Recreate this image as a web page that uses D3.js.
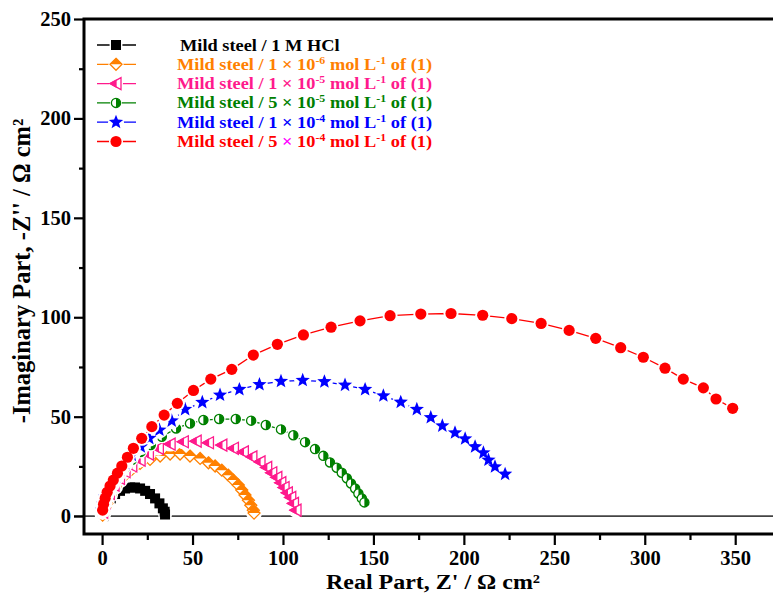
<!DOCTYPE html>
<html><head><meta charset="utf-8">
<script src="https://cdn.jsdelivr.net/npm/d3@7"></script>
<style>body{margin:0;background:#fff}svg{display:block}text{font-family:"Liberation Serif","Times New Roman",serif;font-weight:bold}</style>
</head><body>
<script>
// ---- data ----
const blackX=[0.7,1.2,1.7,2.9,4.8,7.2,9.9,12.7,15.5,18.2,21.0,23.8,26.5,29.3,31.7,33.6,34.6,34.8];
const blackY=[0,1.5,3.0,6.4,8.9,11.1,12.7,13.9,14.4,14.4,13.9,12.7,11.1,8.9,6.4,3.9,2.2,0.8];
const orangeX=[0.3,0.7,1.5,2.6,4.4,7.2,10.0,12.7,16.4,21.0,26.5,32.1,37.6,43.1,48.6,54.2,58.8,62.5,66.2,69.8,72.6,75.3,77.2,79.0,80.9,82.2,83.6,84.0];
const orangeY=[0.5,2.2,4.2,6.4,10.6,14.7,18.1,20.6,23.5,26.5,28.5,30.2,31.2,31.2,30.2,29.0,26.8,25.2,23.1,20.6,18.1,15.6,13.1,10.6,8.0,5.5,3.0,1.5];
const pinkX=[0.3,1.7,4.0,6.6,9.6,12.7,16.4,21.0,25.6,31.1,37.6,44.9,52.0,58.8,66.2,72.6,78.1,82.8,87.3,91.0,93.8,96.6,98.8,100.6,102.4,104.3,105.8,107.2];
const pinkY=[2.0,6.5,11.4,15.6,19.0,22.3,25.2,28.2,31.2,34.1,36.2,37.4,37.7,36.9,35.7,34.1,32.3,29.8,27.3,24.5,21.8,19.5,16.8,14.4,11.7,9.4,6.4,3.0];
const greenX=[0,1.1,2.8,5.0,7.2,9.9,12.7,16.4,21.4,26.9,33.0,40.9,48.6,56.0,64.7,73.9,82.4,90.5,98.9,105.7,112.2,117.7,122.3,126.0,129.7,132.5,135.3,137.6,139.9,141.7,143.6,145.0];
const greenY=[4.0,7.5,11.0,14.6,17.8,21.1,24.5,28.2,32.3,35.7,39.9,44.1,46.6,48.3,48.8,48.8,48.0,45.8,43.6,40.7,37.2,33.7,30.3,27.0,24.3,21.8,19.0,16.4,13.9,11.4,8.9,6.9];
const blueX=[0,0.6,1.7,3.3,5.4,7.7,9.9,12.7,16.4,21.4,26.1,31.7,38.5,45.9,55.4,65.2,75.9,87.0,98.9,110.9,122.9,134.3,145.4,155.5,165.1,174.0,181.7,188.1,195.1,200.7,206.2,210.8,213.6,217.2,222.8];
const blueY=[3.0,6.0,9.6,13.0,16.4,19.8,23.1,26.5,30.7,34.9,39.1,43.3,47.9,53.7,57.2,60.9,63.7,66.2,67.8,68.3,67.6,65.9,63.7,60.5,57.3,53.7,49.6,45.4,41.9,38.9,34.9,31.8,28.2,24.8,21.1];
const redX=[0.3,0.8,1.7,2.8,4.4,6.2,8.5,10.9,14.0,17.3,21.9,27.5,34.3,41.6,50.5,60.1,71.7,83.6,96.9,111.3,126.6,142.6,159.2,176.2,192.9,210.4,226.5,242.7,258.2,272.9,286.7,299.2,311.2,321.3,332.4,339.4,348.6];
const redY=[3,6,9,12,15.1,18.1,21.6,25.2,29.6,34.1,39.1,45.0,50.8,56.7,63.2,68.9,73.8,81.0,86.4,91.1,95.0,98.2,100.8,101.6,101.9,101.0,99.3,96.9,93.4,89.4,84.7,79.9,74.4,68.9,64.5,58.9,54.2];
const xTicks=[0,50,100,150,200,250,300,350];
const yTicks=[0,50,100,150,200,250];

const series=[
 {x:blackX,y:blackY,color:"#000000",marker:"square"},
 {x:orangeX,y:orangeY,color:"#ff8000",marker:"diamond"},
 {x:pinkX,y:pinkY,color:"#ff1a8c",marker:"ltri"},
 {x:greenX,y:greenY,color:"#008000",marker:"halfcircle"},
 {x:blueX,y:blueY,color:"#0000ff",marker:"star"},
 {x:redX,y:redY,color:"#ff0000",marker:"circle"}
];
const legendRows=[
 [["Mild steel / 1 M HCl",""]],
 [["Mild steel / 1 \u00d7 10",""],["-6","sup"],[" mol L",""],["-1","sup"],[" of  (1)",""]],
 [["Mild steel / 1 \u00d7 10",""],["-5","sup"],[" mol L",""],["-1","sup"],[" of  (1)",""]],
 [["Mild steel / 5 \u00d7 10",""],["-5","sup"],[" mol L",""],["-1","sup"],[" of (1)",""]],
 [["Mild steel / 1 \u00d7 10",""],["-4","sup"],[" mol L",""],["-1","sup"],[" of (1)",""]],
 [["Mild steel / 5 ",""],["\u00d7","mag"],[" 10",""],["-4","sup"],[" mol L",""],["-1","sup"],[" of (1)",""]]
];

const W=773,H=595;
const svg=d3.select("body").append("svg").attr("width",W).attr("height",H);
const x=d3.scaleLinear().domain([-10,372]).range([84,775]);
const y=d3.scaleLinear().domain([-9,250]).range([534,19]);

svg.append("line").attr("x1",74).attr("x2",W).attr("y1",y(0)).attr("y2",y(0)).attr("stroke","#444").attr("stroke-width",1.6);

const xMajor=d3.axisBottom(x).tickValues(xTicks).tickSize(11).tickPadding(5).tickFormat(d3.format("d"));
const xMinor=d3.axisBottom(x).tickValues(d3.range(25,372,50)).tickSize(6).tickFormat("");
const yMajor=d3.axisLeft(y).tickValues(yTicks).tickSize(10).tickPadding(3).tickFormat(d3.format("d"));
const yMinor=d3.axisLeft(y).tickValues(d3.range(25,250,50)).tickSize(5).tickFormat("");
function styleAx(g){g.select(".domain").remove();g.selectAll("line").attr("stroke","#000").attr("stroke-width",2.2);g.selectAll("text").attr("font-size",20.5).attr("fill","#000").style("font-family","'Liberation Serif',serif").style("font-weight","bold");}
svg.append("g").attr("transform","translate(0,534)").call(xMajor).call(styleAx);
svg.append("g").attr("transform","translate(0,534)").call(xMinor).call(styleAx);
svg.append("g").attr("transform","translate(84,0)").call(yMajor).call(styleAx);
svg.append("g").attr("transform","translate(84,0)").call(yMinor).call(styleAx);

svg.append("path").attr("d",`M780,19 H84 V534 H780`).attr("fill","none").attr("stroke","#000").attr("stroke-width",3);

function starPath(R,r){let p=[];for(let i=0;i<10;i++){const a=-Math.PI/2+i*Math.PI/5;const rr=i%2?r:R;p.push([rr*Math.cos(a),rr*Math.sin(a)]);}return "M"+p.map(q=>q.join(",")).join("L")+"Z";}
function drawMarker(g,type,color){
 if(type==="square"){
  g.append("rect").attr("x",-5).attr("y",-5).attr("width",10).attr("height",10).attr("fill",color);
 } else if(type==="diamond"){
  const s=6;
  g.append("path").attr("d",`M0,${-s}L${s},0L0,${s}L${-s},0Z`).attr("fill","#fff").attr("stroke",color).attr("stroke-width",1.3);
  g.append("path").attr("d",`M0,${-s}L${s},0L${-s},0Z`).attr("fill",color);
 } else if(type==="ltri"){
  g.append("path").attr("d","M-6,0L5,-6L5,6Z").attr("fill","#fff").attr("stroke",color).attr("stroke-width",1.3);
  g.append("path").attr("d","M-6,0L0,-3.3L0,3.3Z").attr("fill",color).attr("stroke",color).attr("stroke-width",1.3);
 } else if(type==="halfcircle"){
  g.append("circle").attr("r",4.6).attr("fill","#fff").attr("stroke",color).attr("stroke-width",1.3);
  g.append("path").attr("d","M0,-4.6A4.6,4.6 0 0 1 0,4.6Z").attr("fill",color);
 } else if(type==="star"){
  g.append("path").attr("d",starPath(7.5,3.2)).attr("fill",color);
 } else if(type==="circle"){
  g.append("circle").attr("r",5.6).attr("fill",color);
 }
}
function haloR(type){return {square:7,diamond:8,ltri:7.5,halfcircle:6.5,star:8.5,circle:7.5}[type];}

series.forEach(s=>{
 const pts=s.x.map((v,i)=>[x(v),y(s.y[i])]);
 const g=svg.append("g");
 g.append("path").attr("d",d3.line()(pts)).attr("fill","none").attr("stroke",s.color).attr("stroke-width",1.3);
 pts.forEach(p=>{g.append("circle").attr("cx",p[0]).attr("cy",p[1]).attr("r",haloR(s.marker)).attr("fill","#fff");});
 pts.forEach(p=>{drawMarker(g.append("g").attr("transform",`translate(${p[0]},${p[1]})`),s.marker,s.color);});
});

const legY0=45,legDy=19.3;
series.forEach((s,i)=>{
 const yy=legY0+i*legDy;
 const g=svg.append("g");
 g.append("line").attr("x1",97).attr("x2",136).attr("y1",yy).attr("y2",yy).attr("stroke",s.color).attr("stroke-width",1.3);
 g.append("circle").attr("cx",116).attr("cy",yy).attr("r",haloR(s.marker)-0.5).attr("fill","#fff");
 drawMarker(g.append("g").attr("transform",`translate(116,${yy})`),s.marker,s.color);
 const t=g.append("text").attr("transform",`translate(${i===0?180:177},${yy+5.5}) scale(1.08,1)`).style("font-size","17px").attr("fill",s.color);
 let prevSup=false;
 legendRows[i].forEach(p=>{
  const ts=t.append("tspan").text(p[0]);
  const sup=p[1]==="sup";
  if(sup){ts.style("font-size","11px").attr("dy",prevSup?0:-6);}
  else if(prevSup){ts.attr("dy",6);}
  if(p[1]==="mag"){ts.attr("fill","#ff00ff");}
  prevSup=sup;
 });
});

svg.append("text").attr("transform","translate(433,589) scale(1.09,1)").attr("text-anchor","middle").style("font-size","22px").attr("fill","#000").text("Real Part, Z' / \u03a9 cm\u00b2");
svg.append("text").attr("transform","translate(30,271) rotate(-90)").attr("text-anchor","middle").style("font-size","24.5px").attr("fill","#000").text("-Imaginary Part, -Z'' / \u03a9 cm\u00b2");
</script>
</body></html>
